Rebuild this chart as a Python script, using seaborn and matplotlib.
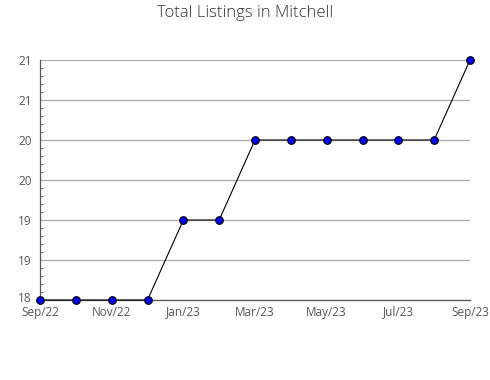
import math
import matplotlib
matplotlib.use("Agg")
import matplotlib.pyplot as plt
from matplotlib.ticker import FuncFormatter, FixedLocator, AutoMinorLocator
from matplotlib.transforms import ScaledTranslation
import seaborn as sns
import pandas as pd

months = ["Sep/22", "Oct/22", "Nov/22", "Dec/22", "Jan/23", "Feb/23", "Mar/23",
          "Apr/23", "May/23", "Jun/23", "Jul/23", "Aug/23", "Sep/23"]
listings = [18, 18, 18, 18, 19, 19, 20, 20, 20, 20, 20, 20, 21]
y_ticks = [18, 18.5, 19, 19.5, 20, 20.5, 21]

df = pd.DataFrame({"idx": range(len(months)), "month": months, "listings": listings})

sns.set_style("white")
plt.rcParams["font.family"] = ["Open Sans", "DejaVu Sans"]

fig = plt.figure(figsize=(4.9, 3.8), dpi=100)
ax = fig.add_axes([40/490, 80/380, 430/490, 240/380])

sns.lineplot(data=df, x="idx", y="listings", ax=ax, color="black", linewidth=0.8,
             marker="o", markersize=5.5, markerfacecolor="#0000ee",
             markeredgecolor="black", markeredgewidth=0.8, clip_on=False, zorder=3)

ax.set_xlim(0, len(months) - 1)
ax.set_ylim(18, 21)
ax.set_xticks(range(len(months)))
ax.set_xticklabels([m if i % 2 == 0 else "" for i, m in enumerate(months)])
ax.yaxis.set_major_locator(FixedLocator(y_ticks))
ax.yaxis.set_minor_locator(AutoMinorLocator(5))
ax.yaxis.set_major_formatter(FuncFormatter(lambda v, p: str(int(math.floor(v + 0.5 + 1e-9)))))

ax.grid(axis="y", which="major", color="#aaaaaa", linewidth=0.9)
ax.grid(axis="x", visible=False)
for s in ["top", "right"]:
    ax.spines[s].set_visible(False)
for s in ["left", "bottom"]:
    ax.spines[s].set_color("#555555")
    ax.spines[s].set_linewidth(0.9)

ax.tick_params(axis="both", which="both", direction="in", colors="#555555",
               labelcolor="#555555", labelsize=8.5)
ax.tick_params(axis="x", which="major", length=4, width=0.8, pad=4)
ax.tick_params(axis="y", which="major", length=4, width=0.8, pad=6)
ax.tick_params(axis="y", which="minor", length=2.5, width=0.6, left=True)
ax.set_xlabel("")
ax.set_ylabel("")

first = ax.yaxis.get_major_ticks()[0].label1
first.set_transform(first.get_transform() + ScaledTranslation(0, 3/100, fig.dpi_scale_trans))

fig.suptitle("Total Listings in Mitchell", x=245/490, y=1 - 5/380, va="top",
             fontsize=12, color="#333333", fontweight="light")

fig.savefig("out.png", dpi=100)
